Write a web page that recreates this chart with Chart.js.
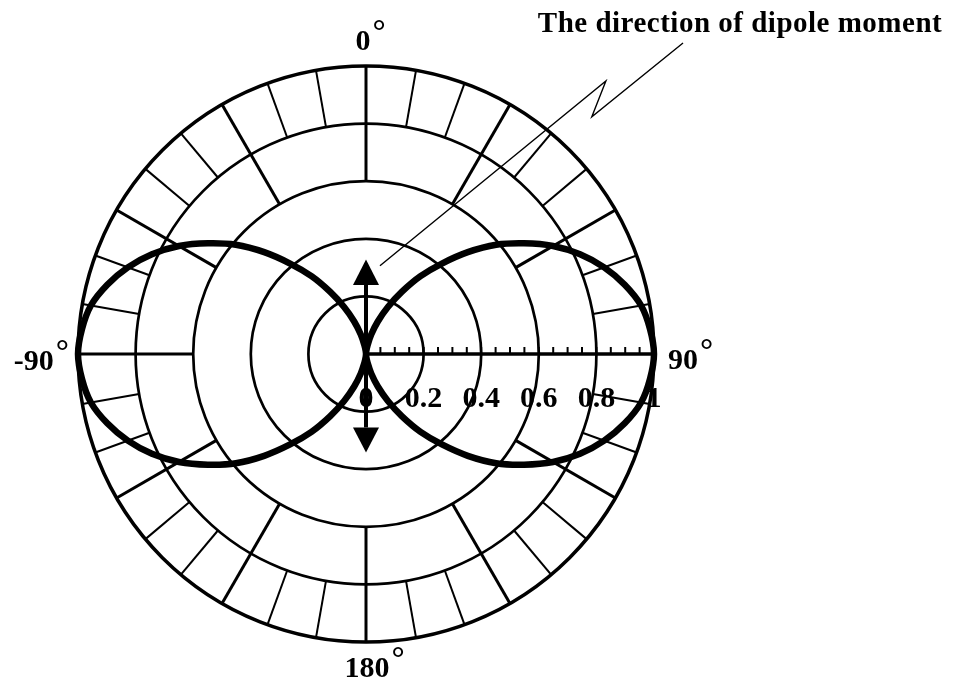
<!DOCTYPE html>
<html>
<head>
<meta charset="utf-8">
<title>Dipole radiation pattern</title>
<script src="https://cdn.jsdelivr.net/npm/chart.js@4.4.1/dist/chart.umd.min.js"></script>
<style>
  html, body { margin: 0; padding: 0; background: #fff; }
  canvas { display: block; }
</style>
</head>
<body>
<canvas id="pattern" width="953" height="684"></canvas>
<script>
// Polar angle (degrees, clockwise from the dipole axis)
const angles = [
  0, 5, 10, 15, 20, 25, 30, 35, 40, 45, 50, 55, 60, 65, 70, 75, 80, 85,
  90, 95, 100, 105, 110, 115, 120, 125, 130, 135, 140, 145, 150, 155, 160, 165, 170, 175,
  180, 185, 190, 195, 200, 205, 210, 215, 220, 225, 230, 235, 240, 245, 250, 255, 260, 265,
  270, 275, 280, 285, 290, 295, 300, 305, 310, 315, 320, 325, 330, 335, 340, 345, 350, 355
];
// Normalised radiated intensity at each angle
const intensity = [
  0, 0.01, 0.03, 0.07, 0.12, 0.18, 0.25, 0.33, 0.41, 0.50, 0.59, 0.67, 0.75, 0.82, 0.88, 0.93, 0.97, 0.99,
  1.00, 0.99, 0.97, 0.93, 0.88, 0.82, 0.75, 0.67, 0.59, 0.50, 0.41, 0.33, 0.25, 0.18, 0.12, 0.07, 0.03, 0.01,
  0, 0.01, 0.03, 0.07, 0.12, 0.18, 0.25, 0.33, 0.41, 0.50, 0.59, 0.67, 0.75, 0.82, 0.88, 0.93, 0.97, 0.99,
  1.00, 0.99, 0.97, 0.93, 0.88, 0.82, 0.75, 0.67, 0.59, 0.50, 0.41, 0.33, 0.25, 0.18, 0.12, 0.07, 0.03, 0.01
];
// Radial scale ticks and their labels along the 90° axis
const radialTicks = [0, 0.2, 0.4, 0.6, 0.8, 1];
const radialTickLabels = ['0', '0.2', '0.4', '0.6', '0.8', '1'];
// Angle labels around the rim
const rimAngles = [0, 90, 180, 270];
const rimLabels = ['0', '90', '180', '-90'];
// Leader line from the arrow to the caption: [angle in degrees, radius]
const leaderPath = [[9.0, 0.31], [41.3, 1.262], [43.6, 1.137], [45.55, 1.542]];
const captionText = 'The direction of dipole moment';

const SERIF = '"Liberation Serif", "Times New Roman", serif';
const STEP = angles[1] - angles[0];

// Canvas position of (angle, value) on the radial scale
function polarPoint(scale, deg, value) {
  return scale.getPointPosition(deg / STEP, scale.getDistanceFromCenterForValue(value));
}

function line(ctx, a, b, width) {
  ctx.beginPath();
  ctx.lineWidth = width;
  ctx.moveTo(a.x, a.y);
  ctx.lineTo(b.x, b.y);
  ctx.stroke();
}

const polarDecor = {
  id: 'polarDecor',
  beforeDatasetsDraw(chart) {
    const s = chart.scales.r;
    const ctx = chart.ctx;
    ctx.save();
    ctx.strokeStyle = '#000';
    ctx.lineCap = 'butt';
    // spokes in the outer bands: every 30° from 0.6, every 10° from 0.8
    for (let deg = 0; deg < 360; deg += 10) {
      if (deg === 90) continue;
      const major = deg % 30 === 0;
      line(ctx, polarPoint(s, deg, major ? 0.6 : 0.8), polarPoint(s, deg, 1), major ? 3 : 2);
    }
    // scale axis toward 90° with minor ticks every 0.05
    line(ctx, polarPoint(s, 90, 0), polarPoint(s, 90, 1), 3.5);
    for (let i = 1; i <= 20; i++) {
      const p = polarPoint(s, 90, i * 0.05);
      line(ctx, { x: p.x, y: p.y }, { x: p.x, y: p.y - 7 }, 2);
    }
    // radial tick labels
    ctx.fillStyle = '#000';
    ctx.font = 'bold 30px ' + SERIF;
    ctx.textAlign = 'center';
    ctx.textBaseline = 'alphabetic';
    radialTicks.forEach((v, i) => {
      const p = polarPoint(s, 90, v);
      ctx.fillText(radialTickLabels[i], p.x, p.y + 53);
    });
    ctx.restore();
  },
  afterDatasetsDraw(chart) {
    const s = chart.scales.r;
    const ctx = chart.ctx;
    ctx.save();
    ctx.strokeStyle = '#000';
    ctx.fillStyle = '#000';

    // double-headed arrow along the dipole axis
    const tipTop = polarPoint(s, 0, 0.328), baseTop = polarPoint(s, 0, 0.24);
    const tipBot = polarPoint(s, 180, 0.342), baseBot = polarPoint(s, 180, 0.255);
    line(ctx, baseTop, baseBot, 4);
    [[tipTop, baseTop], [tipBot, baseBot]].forEach(([t, b]) => {
      ctx.beginPath();
      ctx.moveTo(t.x, t.y);
      ctx.lineTo(b.x - 13, b.y);
      ctx.lineTo(b.x + 13, b.y);
      ctx.closePath();
      ctx.fill();
    });

    // leader line to the caption
    ctx.beginPath();
    ctx.lineWidth = 1.4;
    ctx.lineJoin = 'miter';
    leaderPath.forEach(([deg, r], i) => {
      const p = polarPoint(s, deg, r);
      if (i === 0) ctx.moveTo(p.x, p.y); else ctx.lineTo(p.x, p.y);
    });
    ctx.stroke();

    // rim angle labels with raised degree signs
    const gap = s.drawingArea + 13;
    const numFont = 'bold 30px ' + SERIF;
    const degFont = 'bold 33px ' + SERIF;
    rimAngles.forEach((deg, i) => {
      const a = s.getPointPosition(deg / STEP, gap);
      const txt = rimLabels[i];
      ctx.font = numFont;
      const wN = ctx.measureText(txt).width;
      ctx.font = degFont;
      const wD = ctx.measureText('\u00B0').width;
      let x, base;
      if (deg === 0) { x = a.x - wN / 2 - 3; base = a.y - 3; }
      else if (deg === 180) { x = a.x - wN / 2 + 1; base = a.y + 22; }
      else if (deg === 90) { x = a.x + 1; base = a.y + 15; }
      else { x = a.x - wN - wD + 2; base = a.y + 16; }
      ctx.textAlign = 'left';
      ctx.textBaseline = 'alphabetic';
      ctx.font = numFont;
      ctx.fillText(txt, x, base);
      ctx.font = degFont;
      ctx.fillText('\u00B0', x + wN + 2, base - 8);
    });

    // caption
    ctx.font = 'bold 29px ' + SERIF;
    if ('letterSpacing' in ctx) ctx.letterSpacing = '0.5px';
    ctx.textAlign = 'center';
    ctx.textBaseline = 'alphabetic';
    ctx.fillText(captionText, 740, 32);
    ctx.restore();
  }
};

new Chart(document.getElementById('pattern'), {
  type: 'radar',
  data: {
    labels: angles.map(a => a + '\u00B0'),
    datasets: [{
      data: intensity,
      borderColor: '#000',
      borderWidth: 6.5,
      borderJoinStyle: 'round',
      fill: false,
      tension: 0.35,
      pointRadius: 0,
      pointHoverRadius: 0
    }]
  },
  options: {
    responsive: false,
    animation: false,
    events: [],
    layout: { padding: { left: 78, top: 66, right: 299, bottom: 42 } },
    plugins: { legend: { display: false }, tooltip: { enabled: false }, title: { display: false } },
    scales: {
      r: {
        min: 0,
        max: 1,
        startAngle: 0,
        ticks: { display: false, stepSize: 0.2 },
        pointLabels: { display: false },
        angleLines: { display: false },
        grid: {
          circular: true,
          color: '#000',
          lineWidth: ctx => (ctx.tick && ctx.tick.value === 1 ? 3.5 : 2.7)
        }
      }
    }
  },
  plugins: [polarDecor]
});
</script>
</body>
</html>
